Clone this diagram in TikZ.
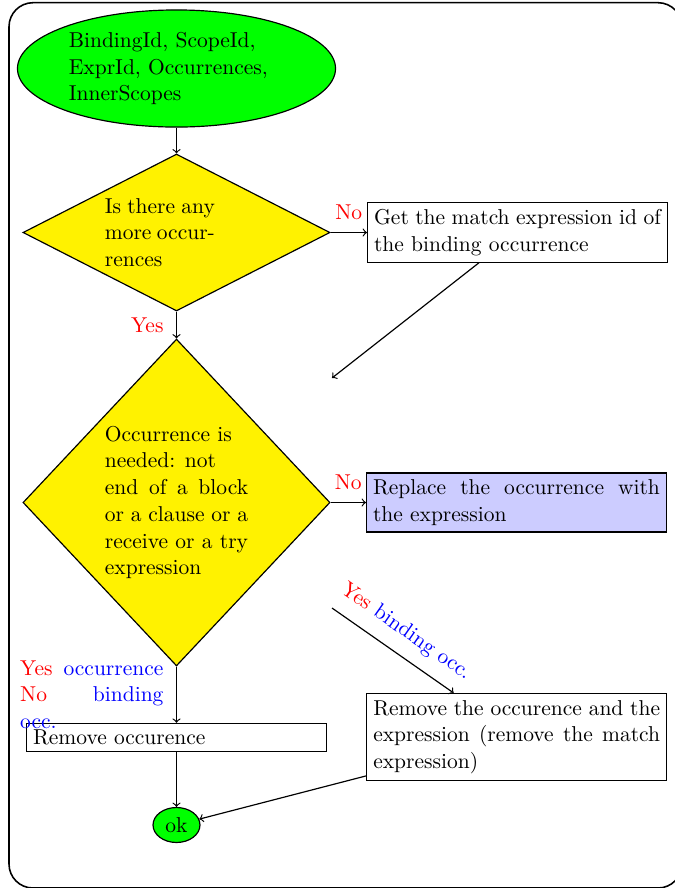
\documentclass[tikz,border=0pt]{standalone}
\usetikzlibrary{shapes.geometric}
\tikzset{
  every node/.style={font=\fontsize{10.95pt}{13.6pt}\selectfont},
  flowbox/.style={draw, rectangle, line width=0.6pt, text width=146pt, align=justify},
  decision/.style={draw, diamond, fill=yellow, line width=0.6pt, inner sep=0pt},
  terminal/.style={draw, ellipse, fill=green, line width=0.6pt},
  link/.style={->, line width=0.6pt},
  answer/.style={text=red},
}
\begin{document}
\begin{tikzpicture}[x=0.509pt, y=-0.509pt]
\useasboundingbox (0,0) rectangle (674,888);
% outer frame
\draw[line width=0.8pt, rounded corners=12.2pt] (9,2.7) rectangle (682,888);

% nodes
\node[terminal, inner sep=2pt, minimum width=161.9pt, minimum height=59.6pt,
      text width=109.6pt, align=left] (start) at (176.5,68.5)
  {BindingId, ScopeId,\\ExprId, Occurrences,\\InnerScopes};

% the question text sits left in a box as wide as the one of the second question
\node[decision, aspect=2, minimum width=156.3pt, minimum height=79.9pt] (q1) at (176.5,232.5)
  {\parbox{56pt}{\spaceskip=0pt\xspaceskip=0pt\relax
   Is there any\linebreak more occur\-rences}\makebox[16.9pt]{}};

\node[decision, aspect=1, minimum width=156.3pt, minimum height=166.4pt, text width=72.9pt,
      align=justify] (q2) at (176.5,502.5)
  {Occurrence is\\ needed: not\\ end of a block or a clause or a receive or a try expression};

\node[flowbox] (getid) at (517.5,232.5) {Get the match expression id of the binding occurrence};
\node[flowbox, fill=blue!20] (repl) at (516.5,502.5) {Replace the occurrence with the expression};
\node[flowbox] (rmocc) at (176.5,737.5) {Remove occurence};
\node[flowbox] (rmexpr) at (516.7,737) {Remove the occurence and the expression (remove the match expression)};
\node[terminal, inner sep=1pt, minimum width=23.9pt, minimum height=17.8pt] (ok) at (176.5,825) {ok};

\coordinate (getidend) at (332,378);
\coordinate (bindstart) at (332,608);

% connectors
\draw[link] (start) -- (q1);
\draw[link] (q1) -- node[answer, above=3pt] {No} (getid);
\draw[link] (q1) -- node[answer, left=3pt] {Yes} (q2);
\draw[link] (getid) -- (getidend);
\draw[link] (q2) -- node[answer, above=3pt] {No} (repl);
\draw[link] (bindstart) -- node[above=3pt, sloped] {{\color{red}Yes} {\color{blue}binding occ.}} (rmexpr);
\draw[link] (q2) -- node[left=3pt, text width=72.9pt, align=justify]
  {{\color{red}Yes} {\color{blue}occurrence} {\color{red}No} {\color{blue}binding\linebreak occ.}} (rmocc);
\draw[link] (rmocc) -- (ok);
\draw[link] (rmexpr) -- (ok);
\end{tikzpicture}
\end{document}
